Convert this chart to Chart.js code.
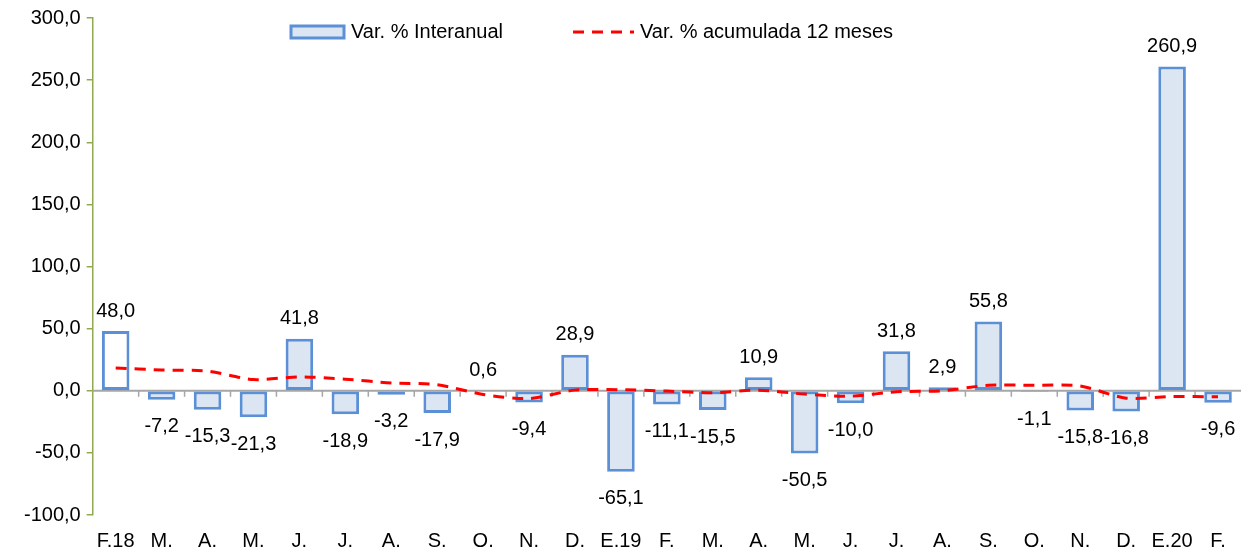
<!DOCTYPE html>
<html>
<head>
<meta charset="utf-8">
<script src="https://cdn.jsdelivr.net/npm/chart.js@4.4.1/dist/chart.umd.min.js"></script>
<style>
  html, body { margin: 0; padding: 0; background: #ffffff; }
  #wrap { width: 1249px; height: 553px; }
</style>
</head>
<body>
<div id="wrap"><canvas id="c" width="1249" height="553"></canvas></div>
<script>
const categories = ["F.18","M.","A.","M.","J.","J.","A.","S.","O.","N.","D.","E.19","F.","M.","A.","M.","J.","J.","A.","S.","O.","N.","D.","E.20","F."];
const interanual = [48.0,-7.2,-15.3,-21.3,41.8,-18.9,-3.2,-17.9,0.6,-9.4,28.9,-65.1,-11.1,-15.5,10.9,-50.5,-10.0,31.8,2.9,55.8,-1.1,-15.8,-16.8,260.9,-9.6];
const acumulada12 = [18.3,16.7,15.8,9.0,11.2,9.3,6.3,4.9,-3.0,-6.3,0.5,0.8,-0.3,-1.6,0.5,-2.7,-4.4,-0.8,0.0,4.4,4.4,3.8,-6.0,-4.6,-4.9];
const yTicks = [-100,-50,0,50,100,150,200,250,300];
const seriesNames = ["Var. % Interanual", "Var. % acumulada 12 meses"];

const FONT = "'Liberation Sans', Arial, sans-serif";
const FS = 20;
const fmt = v => v.toFixed(1).replace('.', ',');

const barFill = interanual.map((v, i) => i === 0 ? '#ffffff' : '#dce6f2');

const zeroLinePlugin = {
  id: 'zeroLine',
  beforeDatasetsDraw(chart) {
    const {ctx, chartArea, scales} = chart;
    const x = scales.x, y = scales.y;
    const y0 = y.getPixelForValue(0);
    ctx.save();
    ctx.strokeStyle = '#a6a6a6';
    ctx.lineWidth = 2;
    ctx.beginPath();
    ctx.moveTo(chartArea.left, y0);
    ctx.lineTo(chartArea.right, y0);
    ctx.stroke();
    ctx.lineWidth = 1.5;
    for (let i = 1; i < categories.length; i++) {
      const bx = (x.getPixelForValue(i - 1) + x.getPixelForValue(i)) / 2;
      ctx.beginPath();
      ctx.moveTo(bx, y0);
      ctx.lineTo(bx, y0 + 6);
      ctx.stroke();
    }
    ctx.restore();
  }
};

const labelPlugin = {
  id: 'barLabels',
  afterDatasetsDraw(chart) {
    const {ctx} = chart;
    const meta = chart.getDatasetMeta(0);
    ctx.save();
    ctx.font = FS + 'px ' + FONT;
    ctx.fillStyle = '#000000';
    ctx.textAlign = 'center';
    ctx.textBaseline = 'middle';
    meta.data.forEach((el, i) => {
      const v = interanual[i];
      const yy = v >= 0 ? el.y - 20 : el.y + 27;
      ctx.fillText(fmt(v), el.x, yy);
    });
    ctx.restore();
  }
};

const legendPlugin = {
  id: 'customLegend',
  afterDraw(chart) {
    const {ctx} = chart;
    const ds = chart.data.datasets;
    ctx.save();
    ctx.font = FS + 'px ' + FONT;
    ctx.textBaseline = 'middle';
    const yc = 32;
    ctx.fillStyle = '#dce6f2';
    ctx.fillRect(291, yc - 6, 53, 12);
    ctx.strokeStyle = ds[0].borderColor;
    ctx.lineWidth = 3;
    ctx.strokeRect(291, yc - 6, 53, 12);
    ctx.fillStyle = '#000000';
    ctx.textAlign = 'left';
    ctx.fillText(ds[0].label, 351, yc);
    ctx.strokeStyle = ds[1].borderColor;
    ctx.lineWidth = 3;
    ctx.setLineDash([11, 8]);
    ctx.beginPath();
    ctx.moveTo(573, yc);
    ctx.lineTo(634, yc);
    ctx.stroke();
    ctx.setLineDash([]);
    ctx.fillText(ds[1].label, 640, yc);
    ctx.restore();
  }
};

new Chart(document.getElementById('c'), {
  data: {
    labels: categories,
    datasets: [
      {
        type: 'bar',
        label: seriesNames[0],
        data: interanual,
        backgroundColor: barFill,
        borderColor: '#5b8fd6',
        borderWidth: 3,
        borderSkipped: false,
        categoryPercentage: 1.0,
        barPercentage: 0.6,
        order: 2
      },
      {
        type: 'line',
        label: seriesNames[1],
        data: acumulada12,
        borderColor: '#ff0000',
        borderWidth: 3,
        borderDash: [11, 8],
        pointRadius: 0,
        tension: 0.25,
        fill: false,
        order: 1
      }
    ]
  },
  options: {
    responsive: false,
    animation: false,
    layout: { padding: { left: 18, right: 8, top: 9, bottom: 0 } },
    plugins: { legend: { display: false }, tooltip: { enabled: false } },
    scales: {
      x: {
        grid: { display: false, drawTicks: false },
        border: { display: false },
        ticks: { color: '#000000', font: { family: FONT, size: FS }, maxRotation: 0, autoSkip: false, padding: 14 },
        afterFit: axis => { axis.height = 38; }
      },
      y: {
        min: -100, max: 300,
        afterBuildTicks: axis => { axis.ticks = yTicks.map(v => ({ value: v })); },
        grid: { drawOnChartArea: false, drawTicks: true, tickLength: 6, color: '#8faa4e', lineWidth: 1.5 },
        border: { display: true, color: '#8faa4e', width: 1.5 },
        ticks: { color: '#000000', font: { family: FONT, size: FS }, padding: 6, callback: v => fmt(v) }
      }
    }
  },
  plugins: [zeroLinePlugin, labelPlugin, legendPlugin]
});
</script>
</body>
</html>
